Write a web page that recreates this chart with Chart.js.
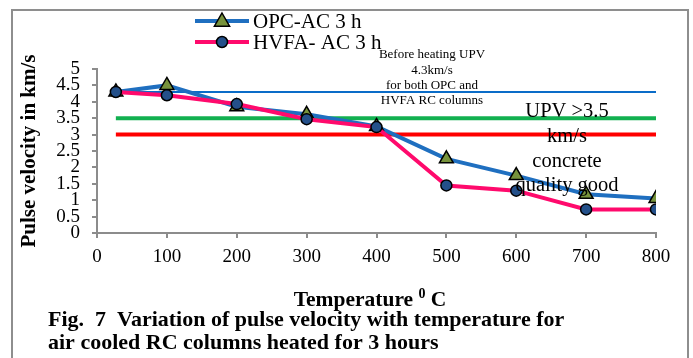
<!DOCTYPE html>
<html>
<head>
<meta charset="utf-8">
<script src="https://cdn.jsdelivr.net/npm/chart.js@4.4.0/dist/chart.umd.min.js"></script>
<style>
  html, body { margin: 0; padding: 0; background: #fff; }
  #wrap { position: relative; width: 693px; height: 358px; overflow: hidden; }
  #frame { position: absolute; left: 11px; top: 9px; width: 674px; height: 360px;
           border: 2px solid #8e8e8e; border-bottom: none; }
  canvas { position: absolute; left: 0; top: 0; }
</style>
</head>
<body>
<div id="wrap">
  <div id="frame"></div>
  <canvas id="upvChart" width="693" height="358"></canvas>
</div>
<script>
// temperatures (deg C) and pulse velocities (km/s)
const temps = [27, 100, 200, 300, 400, 500, 600, 700, 800];
const opcAC = [4.3, 4.5, 3.85, 3.62, 3.25, 2.26, 1.75, 1.18, 1.05];
const hvfaAC = [4.3, 4.2, 3.93, 3.47, 3.23, 1.45, 1.29, 0.72, 0.72];

// horizontal reference levels
const refRange = [27, 800];
const beforeHeating = 4.3;
const goodQuality = 3.5;
const lowLimit = 3.0;

const seriesNames = ['OPC-AC 3 h', 'HVFA- AC 3 h'];

const SERIF = '"Liberation Serif", "Times New Roman", serif';
const AXIS_GRAY = '#8c8c8c';

const pts = (xs, ys) => xs.map((x, i) => ({ x: x, y: ys[i] }));
const flat = v => refRange.map(x => ({ x: x, y: v }));

function drawTri(ctx, x, y, r) {
  ctx.beginPath();
  ctx.moveTo(x, y - r);
  ctx.lineTo(x + r * 0.95, y + r * 0.65);
  ctx.lineTo(x - r * 0.95, y + r * 0.65);
  ctx.closePath();
  ctx.fill();
  ctx.stroke();
}

// legend, notes, axis titles and caption
const extras = {
  id: 'extras',
  afterDatasetsDraw(chart) {
    const ctx = chart.ctx;
    ctx.save();
    ctx.fillStyle = '#000';
    ctx.textBaseline = 'middle';

    // legend
    const rows = [
      { y: 21, line: '#1f6fc0', fill: '#77933c', tri: true },
      { y: 42, line: '#ff0a6c', fill: '#24508a', tri: false }
    ];
    rows.forEach((r, i) => {
      ctx.strokeStyle = r.line;
      ctx.lineWidth = 4;
      ctx.beginPath();
      ctx.moveTo(195, r.y);
      ctx.lineTo(249, r.y);
      ctx.stroke();
      ctx.fillStyle = r.fill;
      ctx.strokeStyle = '#000';
      ctx.lineWidth = 1.5;
      if (r.tri) {
        drawTri(ctx, 222, r.y, 8);
      } else {
        ctx.beginPath();
        ctx.arc(222, r.y, 5.5, 0, Math.PI * 2);
        ctx.fill();
        ctx.stroke();
      }
      ctx.fillStyle = '#000';
      ctx.textAlign = 'left';
      ctx.font = '21px ' + SERIF;
      ctx.fillText(seriesNames[i], 253, r.y + 1);
    });

    // notes
    ctx.textAlign = 'center';
    ctx.font = '13px ' + SERIF;
    ['Before heating UPV', '4.3km/s', 'for both OPC and', 'HVFA RC columns']
      .forEach((t, i) => ctx.fillText(t, 432, 55 + i * 15.3));
    ctx.font = '20.5px ' + SERIF;
    ['UPV >3.5', 'km/s', 'concrete', 'quality good']
      .forEach((t, i) => ctx.fillText(t, 567, 112 + i * 24.6));

    // y axis title
    ctx.save();
    ctx.translate(30, 151);
    ctx.rotate(-Math.PI / 2);
    ctx.font = 'bold 21px ' + SERIF;
    ctx.fillText('Pulse velocity in km/s', 0, 0);
    ctx.restore();

    // x axis title with superscript
    const a = 'Temperature ', c = ' C';
    ctx.font = 'bold 14px ' + SERIF;
    const wSup = ctx.measureText('0').width;
    ctx.font = 'bold 21.5px ' + SERIF;
    const wA = ctx.measureText(a).width, wC = ctx.measureText(c).width;
    let x0 = 370 - (wA + wSup + wC) / 2;
    ctx.textAlign = 'left';
    ctx.fillText(a, x0, 300);
    ctx.font = 'bold 14px ' + SERIF;
    ctx.fillText('0', x0 + wA, 294);
    ctx.font = 'bold 21.5px ' + SERIF;
    ctx.fillText(c, x0 + wA + wSup, 300);

    // caption
    ctx.font = 'bold 22px ' + SERIF;
    ctx.fillText('Fig.  7  Variation of pulse velocity with temperature for', 48, 320);
    ctx.fillText('air cooled RC columns heated for 3 hours', 48, 343);
    ctx.restore();
  }
};

new Chart(document.getElementById('upvChart'), {
  type: 'line',
  data: {
    datasets: [
      {
        label: seriesNames[0],
        data: pts(temps, opcAC),
        borderColor: '#1f6fc0',
        borderWidth: 4,
        pointStyle: 'triangle',
        pointRadius: 8,
        pointBackgroundColor: '#77933c',
        pointBorderColor: '#000',
        pointBorderWidth: 1.5,
        order: 1
      },
      {
        label: seriesNames[1],
        data: pts(temps, hvfaAC),
        borderColor: '#ff0a6c',
        borderWidth: 4,
        pointStyle: 'circle',
        pointRadius: 5.5,
        pointBackgroundColor: '#24508a',
        pointBorderColor: '#000',
        pointBorderWidth: 1.5,
        order: 0
      },
      { data: flat(beforeHeating), borderColor: '#0a6cc8', borderWidth: 2, pointRadius: 0, order: 2 },
      { data: flat(goodQuality), borderColor: '#12b050', borderWidth: 4, pointRadius: 0, order: 2 },
      { data: flat(lowLimit), borderColor: '#ff0000', borderWidth: 4, pointRadius: 0, order: 2 }
    ]
  },
  options: {
    responsive: false,
    animation: false,
    devicePixelRatio: 1,
    layout: { padding: { left: 0, top: 69, right: 37, bottom: 0 } },
    plugins: { legend: { display: false }, tooltip: { enabled: false } },
    elements: { line: { tension: 0 } },
    scales: {
      x: {
        type: 'linear',
        min: 0, max: 800,
        afterFit: s => { s.height = 125; },
        border: { color: AXIS_GRAY, width: 2 },
        grid: { drawOnChartArea: false, color: AXIS_GRAY, tickLength: 5, lineWidth: 2 },
        ticks: { stepSize: 100, color: '#000', padding: 8, maxRotation: 0,
                 font: { family: SERIF, size: 19 } }
      },
      y: {
        min: 0, max: 5,
        afterFit: s => { s.width = 97; },
        border: { color: AXIS_GRAY, width: 2 },
        grid: { drawOnChartArea: false, color: AXIS_GRAY, tickLength: 5, lineWidth: 2 },
        ticks: { stepSize: 0.5, color: '#000', padding: 12, autoSkip: false,
                 callback: v => String(v),
                 font: { family: SERIF, size: 19, lineHeight: 0.9 } }
      }
    }
  },
  plugins: [extras]
});
</script>
</body>
</html>
